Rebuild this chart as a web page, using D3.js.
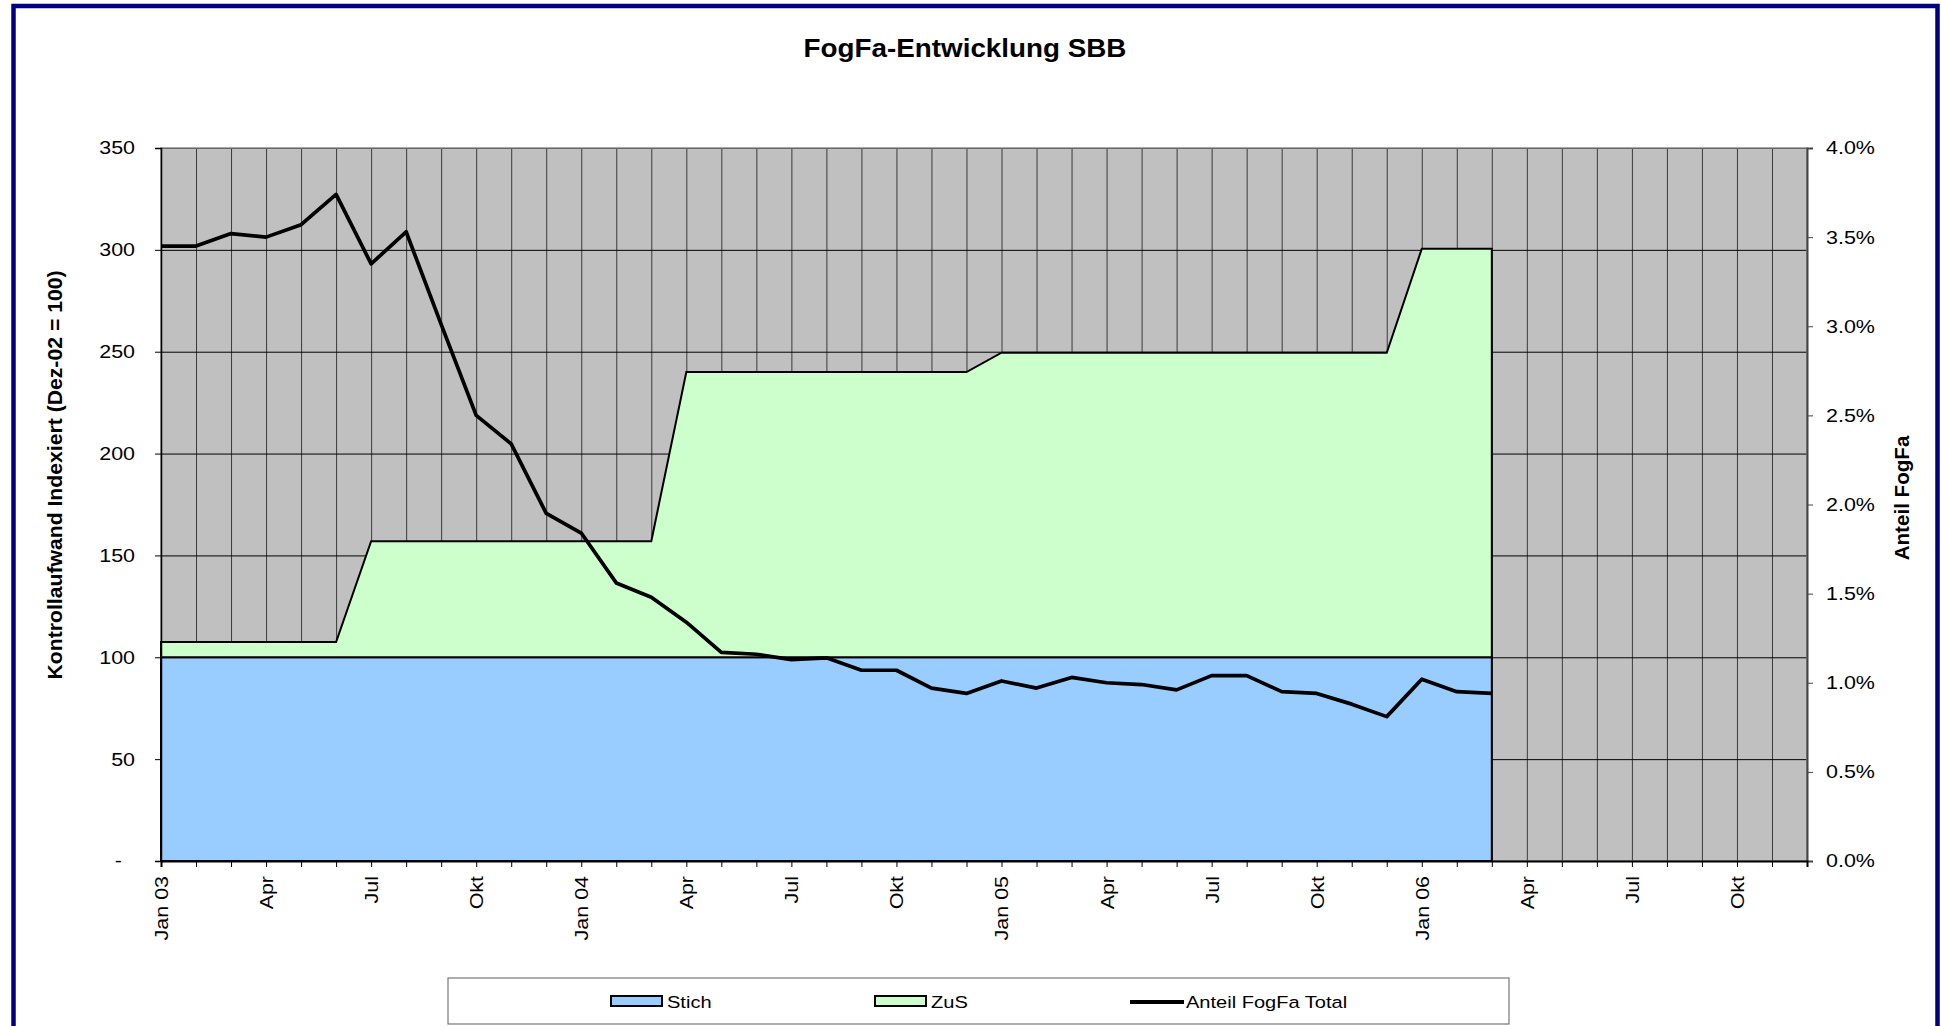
<!DOCTYPE html>
<html><head><meta charset="utf-8">
<script src="https://cdn.jsdelivr.net/npm/d3@7"></script>
<style>
html,body{margin:0;padding:0;background:#fff;}
svg{display:block;font-family:Arial,"Liberation Sans",sans-serif;}
</style></head>
<body>
<svg id="chart" width="1941" height="1026"></svg>
<script>
// ---------- DATA ----------
const categories = [
 "Jan 03","Feb 03","Mrz 03","Apr 03","Mai 03","Jun 03","Jul 03","Aug 03","Sep 03","Okt 03","Nov 03","Dez 03",
 "Jan 04","Feb 04","Mrz 04","Apr 04","Mai 04","Jun 04","Jul 04","Aug 04","Sep 04","Okt 04","Nov 04","Dez 04",
 "Jan 05","Feb 05","Mrz 05","Apr 05","Mai 05","Jun 05","Jul 05","Aug 05","Sep 05","Okt 05","Nov 05","Dez 05",
 "Jan 06","Feb 06","Mrz 06","Apr 06","Mai 06","Jun 06","Jul 06","Aug 06","Sep 06","Okt 06","Nov 06","Dez 06"
];
const tickLabels = ["Jan 03","Apr","Jul","Okt","Jan 04","Apr","Jul","Okt","Jan 05","Apr","Jul","Okt","Jan 06","Apr","Jul","Okt"];
const stich = [100,100,100,100,100,100,100,100,100,100,100,100,
               100,100,100,100,100,100,100,100,100,100,100,100,
               100,100,100,100,100,100,100,100,100,100,100,100,
               100,100,100];
const zus = [7.5,7.5,7.5,7.5,7.5,7.5,57,57,57,57,57,57,
             57,57,57,140,140,140,140,140,140,140,140,140,
             149.5,149.5,149.5,149.5,149.5,149.5,149.5,149.5,149.5,149.5,149.5,149.5,
             200.5,200.5,200.5];
const anteil = [0.0345,0.0345,0.0352,0.0350,0.0357,0.0374,0.0335,0.0353,0.0301,0.0250,0.0234,0.0195,
                0.0184,0.0156,0.0148,0.0134,0.0117,0.0116,0.0113,0.0114,0.0107,0.0107,0.0097,0.0094,
                0.0101,0.0097,0.0103,0.0100,0.0099,0.0096,0.0104,0.0104,0.0095,0.0094,0.0088,0.0081,
                0.0102,0.0095,0.0094];
const leftTicks = [0,50,100,150,200,250,300,350];
const rightTicks = [0,0.005,0.01,0.015,0.02,0.025,0.03,0.035,0.04];
const seriesNames = ["Stich","ZuS","Anteil FogFa Total"];
const title = "FogFa-Entwicklung SBB";
const leftTitle = "Kontrollaufwand Indexiert (Dez-02 = 100)";
const rightTitle = "Anteil FogFa";

// ---------- LAYOUT ----------
const L = 161, R = 1807, T = 148, B = 861;
const svg = d3.select("#chart");
const TS = 1.16; // horizontal text stretch

svg.append("rect").attr("x",13.5).attr("y",6).attr("width",1924).attr("height",1060)
  .attr("fill","#fff").attr("stroke","#000080").attr("stroke-width",4.5);

const x = d3.scalePoint().domain(d3.range(categories.length)).range([L,R]).padding(0);
const yL = d3.scaleLinear().domain([0,350]).range([B,T]);
const yR = d3.scaleLinear().domain([0,0.04]).range([B,T]);

// plot background
svg.append("rect").attr("x",L).attr("y",T).attr("width",R-L).attr("height",B-T).attr("fill","#C0C0C0");

// gridlines
svg.append("g").attr("transform",`translate(0,${B})`)
  .call(d3.axisBottom(x).tickSize(-(B-T)).tickFormat(""))
  .call(g=>{g.select(".domain").remove(); g.selectAll("line").attr("stroke","#3a3a3a").attr("stroke-width",1);});
svg.append("g").attr("transform",`translate(${L},0)`)
  .call(d3.axisLeft(yL).tickValues(leftTicks).tickSize(-(R-L)).tickFormat(""))
  .call(g=>{g.select(".domain").remove(); g.selectAll("line").attr("stroke","#000").attr("stroke-width",1);});

// plot border
svg.append("rect").attr("x",L).attr("y",T).attr("width",R-L).attr("height",B-T)
  .attr("fill","none").attr("stroke","#8a8a8a").attr("stroke-width",1.5);

// stacked areas
const rows = stich.map((s,i)=>({i, Stich:s, ZuS:zus[i]}));
const stacked = d3.stack().keys(["Stich","ZuS"])(rows);
const fills = {Stich:"#99CCFF", ZuS:"#CCFFCC"};
const area = d3.area().x(d=>x(d.data.i)).y0(d=>yL(d[0])).y1(d=>yL(d[1]));
svg.append("g").selectAll("path").data(stacked).join("path")
  .attr("d",d=>area(d)+"")
  .attr("fill",d=>fills[d.key]).attr("stroke","#000").attr("stroke-width",2).attr("stroke-linejoin","miter");

// line
const line = d3.line().x((d,i)=>x(i)).y(d=>yR(d));
svg.append("path").attr("d",line(anteil)).attr("fill","none").attr("stroke","#000")
  .attr("stroke-width",3.7).attr("stroke-linejoin","round");

function stretchText(sel, s){
  sel.each(function(){
    const t=d3.select(this);
    const tx=+t.attr("x")||0, ty=+t.attr("y")||0;
    t.attr("x",0).attr("y",0).attr("transform",`translate(${tx},${ty}) scale(${s},1)`);
  });
}

// left axis
const gL = svg.append("g").attr("transform",`translate(${L},0)`)
  .call(d3.axisLeft(yL).tickValues(leftTicks).tickSize(6).tickPadding(20).tickFormat(d=>d===0?"-":d));
gL.select(".domain").attr("stroke","#000").attr("stroke-width",1.5);
gL.selectAll("line").attr("stroke","#000");
gL.selectAll("text").attr("font-size",18.5).attr("fill","#000").attr("font-family","Arial, 'Liberation Sans', sans-serif")
  .each(function(d){ if(d===0) d3.select(this).attr("x",-39); });
stretchText(gL.selectAll("text"), TS);

// right axis
const gR = svg.append("g").attr("transform",`translate(${R},0)`)
  .call(d3.axisRight(yR).tickValues(rightTicks).tickSize(6).tickPadding(13).tickFormat(d3.format(".1%")));
gR.select(".domain").attr("stroke","#444").attr("stroke-width",2);
gR.selectAll("line").attr("stroke","#444");
gR.selectAll("text").attr("font-size",18.5).attr("fill","#000").attr("font-family","Arial, 'Liberation Sans', sans-serif");
stretchText(gR.selectAll("text"), TS);

// bottom axis
const gB = svg.append("g").attr("transform",`translate(0,${B})`)
  .call(d3.axisBottom(x).tickSize(6).tickFormat(i=> i%3===0 ? tickLabels[i/3] : ""));
gB.select(".domain").attr("stroke","#000").attr("stroke-width",2);
gB.selectAll("line").attr("stroke","#000");
gB.selectAll("text").attr("font-size",18.5).attr("fill","#000").attr("font-family","Arial, 'Liberation Sans', sans-serif")
  .attr("x",0).attr("y",0).attr("dy","0.35em").attr("text-anchor","end")
  .attr("transform",`translate(0,15) rotate(-90) scale(${TS},1)`);

// titles
svg.append("text").attr("transform","translate(965,57) scale(1.07,1)").attr("text-anchor","middle")
  .attr("font-size",26).attr("font-weight","bold").text(title);
svg.append("text").attr("transform","translate(61.5,475) rotate(-90) scale(1.06,1)").attr("text-anchor","middle")
  .attr("font-size",20).attr("font-weight","bold").text(leftTitle);
svg.append("text").attr("transform","translate(1909,498) rotate(-90) scale(1.03,1)").attr("text-anchor","middle")
  .attr("font-size",20).attr("font-weight","bold").text(rightTitle);

// legend
const lg = svg.append("g");
lg.append("rect").attr("x",448).attr("y",978).attr("width",1061).attr("height",46)
  .attr("fill","#fff").attr("stroke","#777").attr("stroke-width",1.2);
const legendItems = [
  {name:seriesNames[0], type:"rect", fill:fills.Stich, x:611},
  {name:seriesNames[1], type:"rect", fill:fills.ZuS, x:875},
  {name:seriesNames[2], type:"line", x:1130}
];
legendItems.forEach(it=>{
  if(it.type==="rect"){
    lg.append("rect").attr("x",it.x).attr("y",996).attr("width",51).attr("height",10)
      .attr("fill",it.fill).attr("stroke","#000").attr("stroke-width",2);
  } else {
    lg.append("line").attr("x1",it.x).attr("x2",it.x+54).attr("y1",1002).attr("y2",1002)
      .attr("stroke","#000").attr("stroke-width",4);
  }
  lg.append("text").attr("transform",`translate(${it.x+56},1008) scale(1.18,1)`)
    .attr("font-size",17).text(it.name);
});
</script>
</body></html>
